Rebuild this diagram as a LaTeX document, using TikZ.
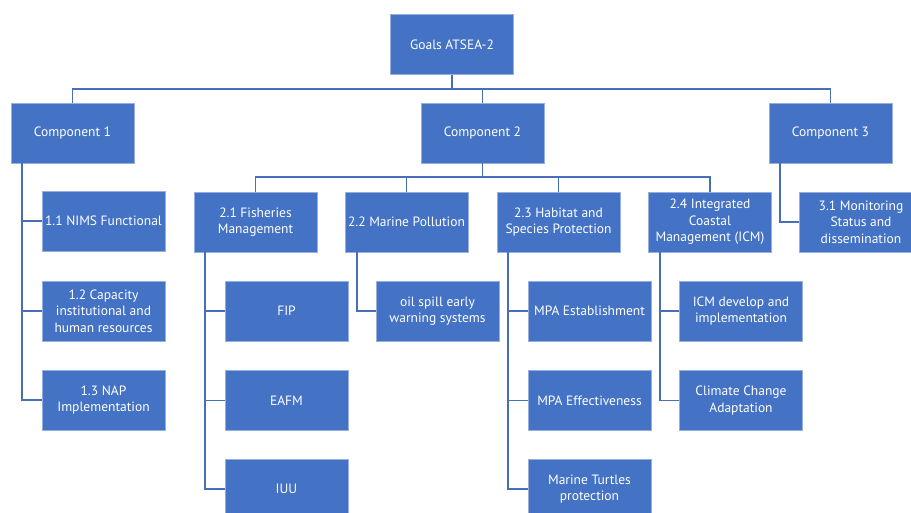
\documentclass[tikz,border=0pt]{standalone}
\usepackage{fontspec}
\setmainfont{PT Sans}
\usepackage{tikz}
\usetikzlibrary{positioning,calc}
\definecolor{boxBlue}{RGB}{68,114,196}
\definecolor{boxEdge}{RGB}{150,176,222}
\definecolor{lineBlue}{RGB}{70,110,185}

\begin{document}
\begin{tikzpicture}[
  x=1pt, y=1pt,
  every node/.style={font=\fontsize{13.5}{16.5}\selectfont},
  boxNode/.style={rectangle, fill=boxBlue, draw=boxEdge, line width=0.8pt,
    text=white, minimum width=123pt, minimum height=60pt, align=center, inner sep=1pt},
  link/.style={draw=lineBlue, line width=1.8pt}
]
  \useasboundingbox (0,-512) rectangle (911,0);
  \begin{scope}
  \clip (0,-512) rectangle (911,0);

  % Top level
  \node[boxNode] (goals) at (452,-44.5) {Goals ATSEA-2};
  \node[boxNode] (comp1) at (72.5,-133) {Component 1};
  \node[boxNode] (comp2) at (482.5,-133) {Component 2};
  \node[boxNode] (comp3) at (830.5,-133) {Component 3};

  % Component 1 outputs
  \node[boxNode] (n11) at (103.5,-221) {1.1 NIMS Functional};
  \node[boxNode] (n12) at (103.5,-311) {1.2 Capacity\\institutional and\\human resources};
  \node[boxNode] (n13) at (103.5,-400) {1.3 NAP\\Implementation};

  % Component 2 outputs
  \node[boxNode] (n21) at (255.5,-222) {2.1 Fisheries\\Management};
  \node[boxNode] (n22) at (406.5,-222) {2.2 Marine Pollution};
  \node[boxNode] (n23) at (558.5,-222) {2.3 Habitat and\\Species Protection};
  \node[boxNode] (n24) at (710,-222) {2.4 Integrated\\Coastal\\Management (ICM)};

  % Component 3 outputs
  \node[boxNode] (n31) at (861,-222) {3.1 Monitoring\\Status and\\dissemination};

  % Activities
  \node[boxNode] (fip) at (286.5,-311) {FIP};
  \node[boxNode] (eafm) at (286.5,-400.5) {EAFM};
  \node[boxNode] (iuu) at (286.5,-489) {IUU};
  \node[boxNode] (oil) at (437.5,-311) {oil spill early\\warning systems};
  \node[boxNode] (mpaEst) at (589.5,-311) {MPA Establishment};
  \node[boxNode] (mpaEff) at (589.5,-400.5) {MPA Effectiveness};
  \node[boxNode] (turtles) at (589.5,-489) {Marine Turtles\\protection};
  \node[boxNode] (icmDev) at (741,-311) {ICM develop and\\implementation};
  \node[boxNode] (climate) at (741,-400.5) {Climate Change\\Adaptation};

  % Buses
  \coordinate (bus1) at (0,-89);
  \coordinate (bus2) at (0,-177);
  \draw[link] (goals.south) -- (goals.south |- bus1);
  \draw[link] (comp1.north) -- (comp1.north |- bus1) -| (comp3.north);
  \draw[link] (comp2.north) -- (comp2.north |- bus1);
  \draw[link] (comp2.south) -- (comp2.south |- bus2);
  \draw[link] (n21.north) -- (n21.north |- bus2) -| (n24.north);
  \draw[link] (n22.north) -- (n22.north |- bus2);
  \draw[link] (n23.north) -- (n23.north |- bus2);

  % Spines
  \coordinate (s1) at ($(comp1.south west)+(11,0)$);
  \coordinate (s3) at ($(comp3.south west)+(11,0)$);
  \coordinate (s21) at ($(n21.south west)+(11,0)$);
  \coordinate (s22) at ($(n22.south west)+(12,0)$);
  \coordinate (s23) at ($(n23.south west)+(11,0)$);
  \coordinate (s24) at ($(n24.south west)+(12,0)$);
  \draw[link] (s1) |- (n11.west);
  \draw[link] (s1) |- (n12.west);
  \draw[link] (s1) |- (n13.west);
  \draw[link] (s3) |- (n31.west);
  \draw[link] (s21) |- (fip.west);
  \draw[link] (s21) |- (eafm.west);
  \draw[link] (s21) |- (iuu.west);
  \draw[link] (s22) |- (oil.west);
  \draw[link] (s23) |- (mpaEst.west);
  \draw[link] (s23) |- (mpaEff.west);
  \draw[link] (s23) |- (turtles.west);
  \draw[link] (s24) |- (icmDev.west);
  \draw[link] (s24) |- (climate.west);
  \end{scope}
\end{tikzpicture}
\end{document}
